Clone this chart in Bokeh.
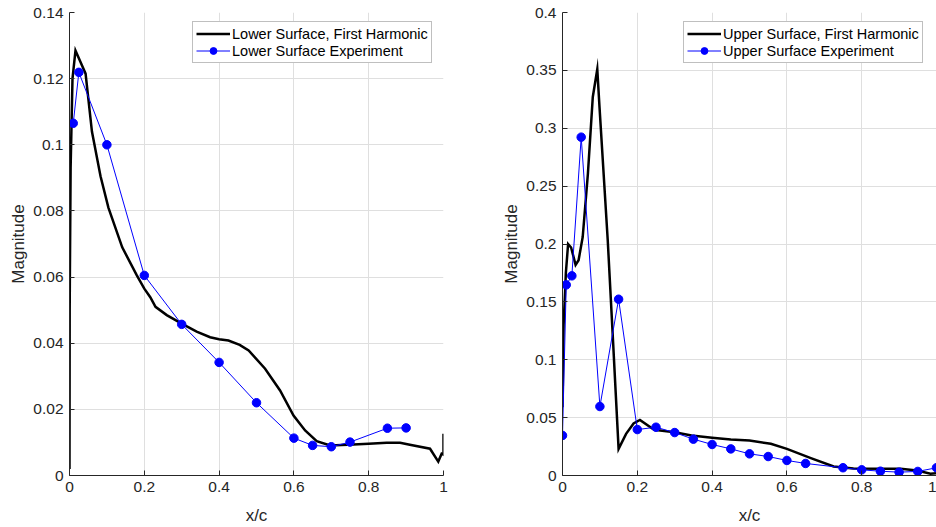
from bokeh.plotting import figure
from bokeh.layouts import row
from bokeh.models import FixedTicker, Range1d, Legend, LegendItem
from bokeh.embed import file_html
from bokeh.resources import INLINE

# ---------------- data ----------------
x_ticks = [0, 0.2, 0.4, 0.6, 0.8, 1.0]
x_tick_labels = ["0", "0.2", "0.4", "0.6", "0.8", "1"]

left_y_ticks = [0, 0.02, 0.04, 0.06, 0.08, 0.1, 0.12, 0.14]
left_y_tick_labels = ["0", "0.02", "0.04", "0.06", "0.08", "0.1", "0.12", "0.14"]
right_y_ticks = [0, 0.05, 0.1, 0.15, 0.2, 0.25, 0.3, 0.35, 0.4]
right_y_tick_labels = ["0", "0.05", "0.1", "0.15", "0.2", "0.25", "0.3", "0.35", "0.4"]

lower_harm_x = [0.0, 0.0005, 0.001, 0.003, 0.008, 0.016, 0.043, 0.06, 0.083, 0.104,
                0.141, 0.18, 0.2, 0.216, 0.23, 0.26, 0.3, 0.34, 0.376, 0.4,
                0.425, 0.455, 0.479, 0.523, 0.563, 0.599, 0.63, 0.661, 0.697, 0.759,
                0.8, 0.848, 0.884, 0.91, 0.964, 0.986, 0.995, 1.0, 1.0]
lower_harm_y = [0.002, 0.05, 0.06, 0.093, 0.12, 0.1285, 0.1215, 0.104, 0.0905, 0.081,
                0.069, 0.0605, 0.0565, 0.0539, 0.051, 0.0485, 0.0459, 0.0435, 0.0418, 0.0412,
                0.0408, 0.0395, 0.0378, 0.0323, 0.0257, 0.0181, 0.0136, 0.0104, 0.0091, 0.0094,
                0.0096, 0.0099, 0.0099, 0.0093, 0.0081, 0.0042, 0.0066, 0.0063, 0.0126]

lower_exp_x = [0.01, 0.025, 0.1, 0.2, 0.3, 0.4, 0.5, 0.6, 0.65, 0.7, 0.75, 0.85, 0.9]
lower_exp_y = [0.1065, 0.1219, 0.1, 0.0605, 0.0457, 0.0342, 0.022, 0.0113, 0.0091,
               0.0087, 0.0101, 0.0143, 0.0144]

upper_harm_x = [0.0, 0.003, 0.009, 0.015, 0.023, 0.035, 0.043, 0.054, 0.068, 0.081,
                0.093, 0.099, 0.121, 0.135, 0.15, 0.17, 0.19, 0.207, 0.245, 0.3,
                0.345, 0.4, 0.45, 0.5, 0.557, 0.6, 0.664, 0.725, 0.778, 0.85,
                0.904, 0.948, 0.984, 1.0]
upper_harm_y = [0.059, 0.13, 0.175, 0.2, 0.197, 0.182, 0.186, 0.206, 0.261, 0.327,
                0.351, 0.318, 0.203, 0.117, 0.023, 0.036, 0.045, 0.048, 0.0395, 0.0374,
                0.0346, 0.0326, 0.031, 0.0302, 0.0274, 0.023, 0.015, 0.0078, 0.006, 0.0059,
                0.0058, 0.0043, 0.0015, 0.002]

upper_exp_x = [0, 0.01, 0.025, 0.05, 0.1, 0.15, 0.2, 0.25, 0.3, 0.35, 0.4, 0.45,
               0.5, 0.55, 0.6, 0.65, 0.75, 0.8, 0.85, 0.9, 0.95, 1.0]
upper_exp_y = [0.0346, 0.1647, 0.1725, 0.2923, 0.0596, 0.1523, 0.0397, 0.0417, 0.0371,
               0.0314, 0.0268, 0.023, 0.0187, 0.0164, 0.013, 0.0104, 0.0067, 0.0049,
               0.0037, 0.0029, 0.0035, 0.0067]

FONT = "Liberation Sans"
TXT = "#262626"


def make_panel(hx, hy, ex, ey, ymax, yticks, ylabels, harm_label, exp_label,
               width, border_right, legend_x):
    p = figure(width=width, height=527, output_backend="svg", toolbar_location=None,
               x_range=Range1d(0, 1), y_range=Range1d(0, ymax),
               min_border_left=69, min_border_right=border_right,
               min_border_top=12, min_border_bottom=52)
    p.outline_line_color = None
    p.background_fill_color = "white"
    p.border_fill_color = "white"

    for ax in (p.xaxis[0], p.yaxis[0]):
        ax.axis_line_color = TXT
        ax.major_tick_line_color = TXT
        ax.major_tick_in = 5
        ax.major_tick_out = 0
        ax.minor_tick_line_color = None
        ax.major_label_text_font = FONT
        ax.major_label_text_font_size = "15.5px"
        ax.major_label_text_color = TXT
        ax.axis_label_text_font = FONT
        ax.axis_label_text_font_size = "17px"
        ax.axis_label_text_font_style = "normal"
        ax.axis_label_text_color = TXT

    p.xaxis.ticker = FixedTicker(ticks=x_ticks)
    p.xaxis.major_label_overrides = dict(zip(x_ticks, x_tick_labels))
    p.yaxis.ticker = FixedTicker(ticks=yticks)
    p.yaxis.major_label_overrides = dict(zip(yticks, ylabels))
    p.xaxis.axis_label = "x/c"
    p.yaxis.axis_label = "Magnitude"
    p.xaxis.major_label_standoff = 6
    p.yaxis.major_label_standoff = 6
    p.xaxis.axis_label_standoff = 11
    p.yaxis.axis_label_standoff = 2

    p.xgrid.ticker = FixedTicker(ticks=x_ticks)
    p.ygrid.ticker = FixedTicker(ticks=yticks)
    p.grid.grid_line_color = "#dfdfdf"
    p.grid.grid_line_width = 1

    r_h = p.line(hx, hy, line_color="black", line_width=2.5, line_join="miter")
    r_el = p.line(ex, ey, line_color="#0000ff", line_width=1)
    r_es = p.scatter(ex, ey, marker="circle", size=8.5, fill_color="#0000ff",
                     line_color="#0000ff")

    legend = Legend(items=[LegendItem(label=harm_label, renderers=[r_h]),
                           LegendItem(label=exp_label, renderers=[r_el, r_es])],
                    location=(legend_x, 412))
    legend.label_text_font = FONT
    legend.label_text_font_size = "14.5px"
    legend.label_text_color = "black"
    legend.glyph_width = 34
    legend.glyph_height = 17
    legend.label_height = 17
    legend.label_standoff = 2
    legend.padding = 3
    legend.spacing = 0
    legend.margin = 0
    legend.border_line_color = "#808080"
    legend.border_line_width = 1
    legend.background_fill_color = "white"
    legend.background_fill_alpha = 1
    p.add_layout(legend, "center")
    return p


p1 = make_panel(lower_harm_x, lower_harm_y, lower_exp_x, lower_exp_y, 0.14,
                left_y_ticks, left_y_tick_labels,
                "Lower Surface, First Harmonic", "Lower Surface Experiment",
                493, 50, 123)
p2 = make_panel(upper_harm_x, upper_harm_y, upper_exp_x, upper_exp_y, 0.4,
                right_y_ticks, right_y_tick_labels,
                "Upper Surface, First Harmonic", "Upper Surface Experiment",
                443, 0, 121)

layout = row(p1, p2)
open("out.html", "w").write(file_html(layout, INLINE))
